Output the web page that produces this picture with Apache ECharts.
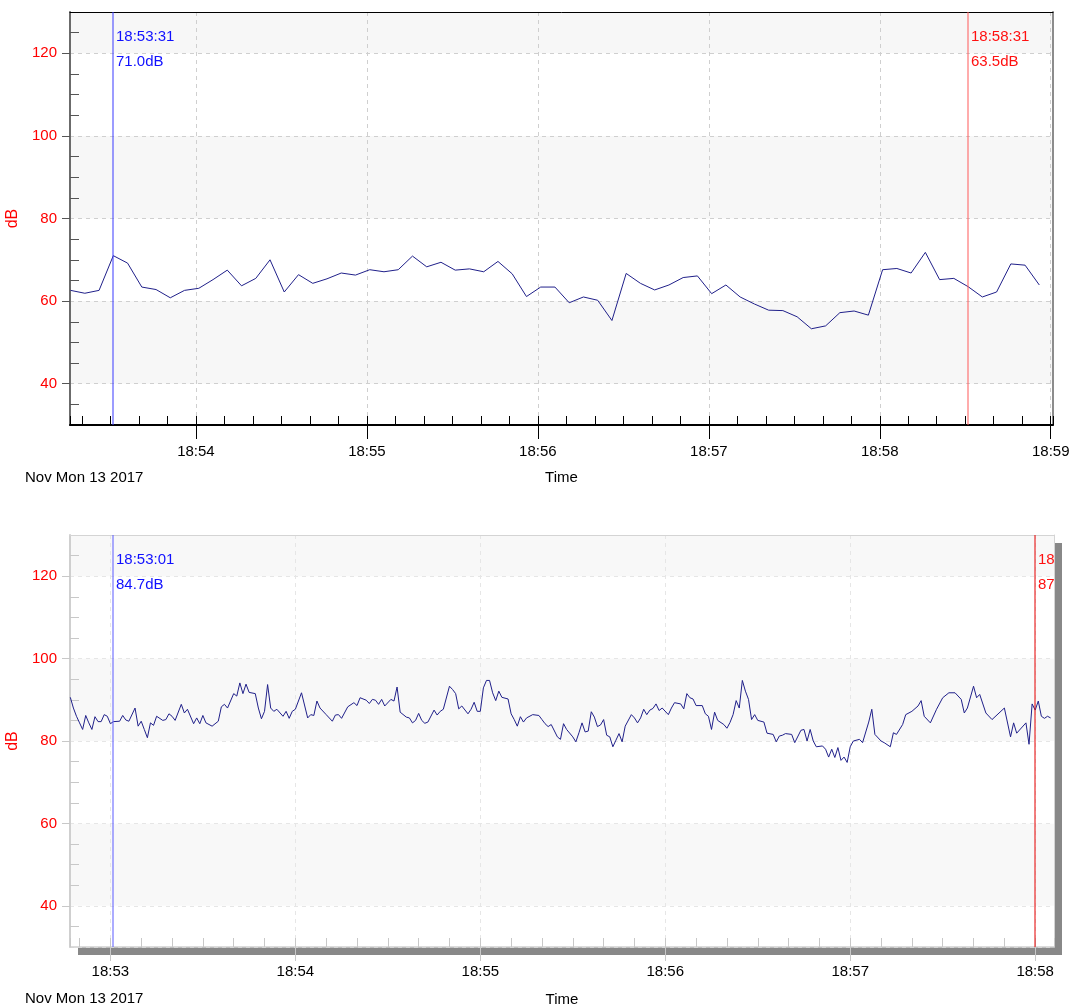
<!DOCTYPE html>
<html><head><meta charset="utf-8">
<script src="https://cdn.jsdelivr.net/npm/echarts@6/dist/echarts.min.js"></script>
<style>html,body{margin:0;padding:0;background:#fff}#c{width:1071px;height:1007px}</style>
</head><body><div id="c"></div>
<script>
// ---------- data ----------
const BASE_TIME = '18:53:00';
const dateText = 'Nov Mon 13 2017';
const xName = 'Time';
const yName = 'dB';
const yTickLabels = ['40', '60', '80', '100', '120'];
const topXTickLabels = ['18:54', '18:55', '18:56', '18:57', '18:58', '18:59'];
const bottomXTickLabels = ['18:53', '18:54', '18:55', '18:56', '18:57', '18:58'];
const topXRange = ['18:53:15.8', '18:59:00.8'];
const bottomXRange = ['18:52:46.9', '18:58:06.1'];
const yRange = [30, 130];

// top panel: seconds after BASE_TIME, level in dB
const topSec = [16,21,26,31,36,41,46,51,56,61,
  66,71,76,81,86,91,96,101,106,111,
  116,121,126,131,136,141,146,151,156,161,
  166,171,176,181,186,191,196,201,206,211,
  216,221,226,231,236,241,246,251,256,261,
  266,271,276,281,286,291,296,301,306,311,
  316,321,326,331,336,341,346,351,356];
const topDb = [62.6,61.9,62.6,71.0,69.2,63.4,62.8,60.8,62.6,63.1,
  65.2,67.5,63.7,65.5,70.0,62.2,66.4,64.3,65.4,66.8,
  66.3,67.6,67.1,67.6,70.9,68.3,69.4,67.5,67.8,67.1,
  69.6,66.6,61.1,63.4,63.4,59.6,61.0,60.2,55.3,66.7,
  64.3,62.7,63.9,65.7,66.1,61.8,63.9,61.0,59.3,57.8,
  57.7,56.2,53.3,54.0,57.2,57.6,56.6,67.6,67.9,66.8,
  71.8,65.2,65.5,63.5,61.0,62.2,69.0,68.7,63.9];
const topCursorTimes = ['18:53:31', '18:58:31'];
const topCursorDb = [71.0, 63.5];

// bottom panel
const bottomSec = [-13,-12,-11,-10,-9,-8,-7,-6,-5,-4,
  -3,-2,-1,0,1,3,4,5,6,8,
  9,10,11,12,13,14,15,17,18,19,
  20,21,23,24,25,27,28,29,30,31,
  33,35,36,37,38,40,41,42,43,44,
  45,47,48,49,50,51,52,53,54,56,
  57,58,59,60,62,64,65,66,67,68,
  70,72,73,74,75,77,79,80,81,83,
  84,85,86,87,88,89,91,92,93,94,
  96,97,98,99,100,101,102,103,105,106,
  107,108,110,111,112,113,114,116,117,118,
  119,120,121,122,123,124,125,126,127,129,
  130,131,132,133,134,135,137,139,140,141,
  142,143,145,146,147,148,150,151,152,153,
  154,155,156,157,158,159,160,161,162,163,
  164,165,166,167,169,170,171,172,173,174,
  175,176,177,178,179,181,182,183,185,186,
  187,188,189,190,192,193,194,195,196,197,
  199,200,201,202,203,204,205,206,207,208,
  209,210,212,213,215,216,217,218,219,221,
  222,224,225,226,227,228,229,231,232,233,
  234,235,236,237,238,239,240,241,243,244,
  246,247,248,250,251,253,254,255,257,258,
  260,262,263,264,266,268,270,272,274,276,
  277,278,280,281,282,284,286,290,292,293,
  294,297,298,299,300,301,302,303,304,305];
const bottomDb = [90.6,88.0,86.0,84.4,82.8,86.2,84.4,82.8,85.9,84.7,
  84.7,86.4,86.0,84.2,84.7,84.8,86.2,85.1,84.8,88.0,
  83.6,84.8,82.8,80.8,84.4,83.8,86.0,85.0,85.2,86.6,
  86.0,85.0,88.9,86.8,87.7,84.2,85.6,84.2,86.2,84.4,
  83.6,84.8,88.3,88.9,88.0,91.5,90.9,94.1,91.5,93.8,
  91.8,91.5,88.0,85.4,87.2,93.7,88.0,87.2,87.7,86.0,
  87.2,85.5,87.2,87.7,91.7,85.6,86.4,86.2,89.7,88.0,
  86.4,84.8,86.3,86.4,85.5,88.3,89.3,88.6,90.5,89.9,
  89.1,90.1,89.9,88.9,90.1,88.5,90.1,89.7,93.1,87.0,
  85.8,85.6,84.4,85.0,86.7,85.0,84.3,84.6,87.5,86.3,
  87.2,87.7,93.3,92.5,91.5,87.8,88.5,86.6,87.7,89.4,
  87.2,87.2,92.9,94.7,94.7,91.7,89.8,92.1,90.6,90.2,
  86.6,85.2,83.6,85.9,84.6,85.6,86.4,86.2,85.2,84.2,
  83.5,84.0,81.0,80.4,84.2,82.8,81.0,79.8,82.0,84.4,
  82.2,82.4,87.1,85.8,83.5,83.9,85.2,81.4,81.0,78.6,
  80.2,81.8,79.8,83.6,86.4,85.6,84.4,85.6,87.7,86.4,
  87.5,87.9,89.0,87.4,88.0,86.4,88.0,89.3,89.0,87.8,
  91.5,90.5,90.2,88.6,88.6,86.6,86.0,82.8,87.0,85.0,
  84.0,83.1,84.5,86.4,89.8,88.0,94.7,92.1,90.1,85.2,
  86.4,85.0,84.6,81.9,81.6,79.8,81.2,81.4,81.8,81.6,
  79.6,82.6,82.8,80.0,82.8,80.0,78.6,78.8,78.0,76.1,
  78.0,76.0,78.4,75.3,76.1,74.8,78.6,80.0,80.4,79.6,
  84.6,87.7,81.6,80.0,79.6,78.6,82.0,81.6,84.0,86.4,
  87.2,88.5,89.8,86.0,84.4,87.7,90.5,91.7,91.7,90.1,
  86.8,88.0,93.3,90.5,91.3,86.8,85.2,88.0,81.0,84.4,
  81.9,84.4,79.2,89.0,87.5,89.7,86.0,85.5,86.0,85.6];
const bottomCursorTimes = ['18:53:01', '18:58:00'];
const bottomCursorDb = [84.7, 87.5];

// ---------- helpers ----------
function toSec(t) { const p = t.split(':').map(Number); return p[0] * 3600 + p[1] * 60 + (p[2] || 0); }
function fmt(v) { const m = Math.floor(v / 60 + 1e-6); return String(Math.floor(m / 60)).padStart(2, '0') + ':' + String(m % 60).padStart(2, '0'); }
const BASE = toSec(BASE_TIME);
const FONT = '"Liberation Sans",Arial,sans-serif';
const FS = 15;
const yTicks = yTickLabels.map(Number);
const yMinor = [];
for (let v = yRange[0]; v <= yRange[1]; v += 5) if (v % 20 !== 0 && v > yRange[0] && v < yRange[1]) yMinor.push(v);

const panels = [
  { grid: { left: 70, top: 12, width: 983, height: 413, show: false, outerBoundsMode: 'none', containLabel: false },
    xr: topXRange, xticks: topXTickLabels, sec: topSec, db: topDb,
    cTimes: topCursorTimes, cDb: topCursorDb,
    axisColor: '#000', axisW: 2, leftColor: '#6b6b6b', xTick: '#000', yTick: '#555',
    split: '#cfcfcf', splitType: [4, 4], band: '#f7f7f7', topColor: '#000', rightColor: '#8c8c8c', rightW: 2,
    cLine: ['#3b3bff', '#ff5a5a'], cText: ['#1010ff', '#ff1010'],
    xMargin: 19, nameGap: 45 },
  { grid: { left: 70, top: 535, width: 984, height: 412, show: true, z: -2, backgroundColor: '#fff', borderWidth: 0,
            shadowColor: '#888888', shadowOffsetX: 8, shadowOffsetY: 8, shadowBlur: 0,
            outerBoundsMode: 'none', containLabel: false },
    xr: bottomXRange, xticks: bottomXTickLabels, sec: bottomSec, db: bottomDb,
    cTimes: bottomCursorTimes, cDb: bottomCursorDb,
    axisColor: '#cfcfcf', axisW: 1.5, leftColor: '#cfcfcf', xTick: '#c8c8c8', yTick: '#c8c8c8',
    split: '#e6e6e6', splitType: [4, 4], band: '#f8f8f8', topColor: '#d4d4d4', rightColor: '#d4d4d4', rightW: 1,
    cLine: ['#5a5aff', '#e80000'], cText: ['#1010ff', '#ff1010'],
    xMargin: 17, nameGap: 45 }
];

const option = { animation: false, grid: [], xAxis: [], yAxis: [], series: [], graphic: [] };

panels.forEach((p, g) => {
  option.grid.push(p.grid);
  const xmin = toSec(p.xr[0]), xmax = toSec(p.xr[1]);
  const xt = p.xticks.map(toSec);
  const xi = option.xAxis.length, yi = option.yAxis.length;
  const none = { axisLine: { show: false }, axisTick: { show: false }, axisLabel: { show: false }, splitLine: { show: false } };
  // main x axis
  option.xAxis.push({
    gridIndex: g, type: 'value', position: 'bottom', min: xmin, max: xmax, minInterval: 60, maxInterval: 60,
    axisLine: { onZero: false, lineStyle: { color: p.axisColor, width: p.axisW } },
    axisTick: { inside: false, length: 14, customValues: xt, lineStyle: { color: p.xTick, width: 1 } },
    axisLabel: { customValues: xt, formatter: fmt, color: '#000', fontFamily: FONT, fontSize: FS, margin: p.xMargin },
    splitLine: { show: true, lineStyle: { color: p.split, type: p.splitType, width: 1 } },
    name: xName, nameLocation: 'middle', nameGap: p.nameGap,
    nameTextStyle: { color: '#000', fontFamily: FONT, fontSize: FS }
  });
  // minor 10 s ticks
  option.xAxis.push(Object.assign({}, none, {
    gridIndex: g, type: 'value', position: 'bottom', min: xmin, max: xmax, minInterval: 10, maxInterval: 10,
    axisTick: { show: true, inside: true, length: 9, lineStyle: { color: p.xTick, width: 1 } }
  }));
  // top border
  option.xAxis.push(Object.assign({}, none, {
    gridIndex: g, type: 'value', position: 'top', min: xmin, max: xmax,
    axisLine: { show: true, onZero: false, lineStyle: { color: p.topColor, width: 1 } }
  }));
  // main y axis
  option.yAxis.push({
    gridIndex: g, type: 'value', position: 'left', min: yRange[0], max: yRange[1], minInterval: 20, maxInterval: 20, z: -1,
    axisLine: { show: true, onZero: false, lineStyle: { color: p.leftColor, width: 2 } },
    axisTick: { show: false },
    axisLabel: { customValues: yTicks, color: '#ff0000', fontFamily: FONT, fontSize: FS, margin: 13 },
    splitLine: { show: true, lineStyle: { color: p.split, type: p.splitType, width: 1 } },
    splitArea: { show: true, areaStyle: { color: ['#ffffff', p.band] } },
    name: yName, nameLocation: 'middle', nameGap: 46, nameRotate: 90,
    nameTextStyle: { color: '#ff0000', fontFamily: FONT, fontSize: 16 }
  });
  // major y ticks (outside)
  option.yAxis.push(Object.assign({}, none, {
    gridIndex: g, type: 'value', position: 'left', min: yRange[0], max: yRange[1], minInterval: 20, maxInterval: 20,
    axisTick: { show: true, inside: false, length: 8, customValues: yTicks, lineStyle: { color: p.yTick, width: 1 } }
  }));
  // minor y ticks (inside)
  option.yAxis.push(Object.assign({}, none, {
    gridIndex: g, type: 'value', position: 'left', min: yRange[0], max: yRange[1], minInterval: 5, maxInterval: 5,
    axisTick: { show: true, inside: true, length: 9, customValues: yMinor, lineStyle: { color: p.yTick, width: 1 } }
  }));
  // right border
  option.yAxis.push(Object.assign({}, none, {
    gridIndex: g, type: 'value', position: 'right', min: yRange[0], max: yRange[1],
    axisLine: { show: true, onZero: false, lineStyle: { color: p.rightColor, width: p.rightW } }
  }));

  option.series.push({
    type: 'line', xAxisIndex: xi, yAxisIndex: yi, showSymbol: false, z: 3,
    lineStyle: { color: '#20208a', width: 1 },
    data: p.sec.map((s, i) => [BASE + s, p.db[i]])
  });
  option.series.push({
    type: 'custom', xAxisIndex: xi, yAxisIndex: yi, clip: true, z: 4,
    data: p.cTimes.map((t, i) => [toSec(t), p.cDb[i]]),
    renderItem(params, api) {
      const i = params.dataIndex;
      const pt = api.coord([api.value(0), api.value(1)]);
      const cs = params.coordSys;
      const x = Math.round(pt[0]);
      const font = FS + 'px ' + FONT;
      return { type: 'group', children: [
        { type: 'rect', shape: { x: x - 0.5, y: cs.y, width: 1, height: cs.height }, style: { fill: p.cLine[i] } },
        { type: 'text', x: x + 3, y: cs.y + 25, style: { text: p.cTimes[i], fill: p.cText[i], font: font, verticalAlign: 'middle' } },
        { type: 'text', x: x + 3, y: cs.y + 50, style: { text: p.cDb[i].toFixed(1) + 'dB', fill: p.cText[i], font: font, verticalAlign: 'middle' } }
      ] };
    }
  });
});

option.graphic = [
  { type: 'text', left: 25, top: 470, style: { text: dateText, fill: '#000', font: FS + 'px ' + FONT } },
  { type: 'text', left: 25, top: 991, style: { text: dateText, fill: '#000', font: FS + 'px ' + FONT } }
];

const chart = echarts.init(document.getElementById('c'), null, { renderer: 'canvas' });
chart.setOption(option);
</script>
</body></html>
